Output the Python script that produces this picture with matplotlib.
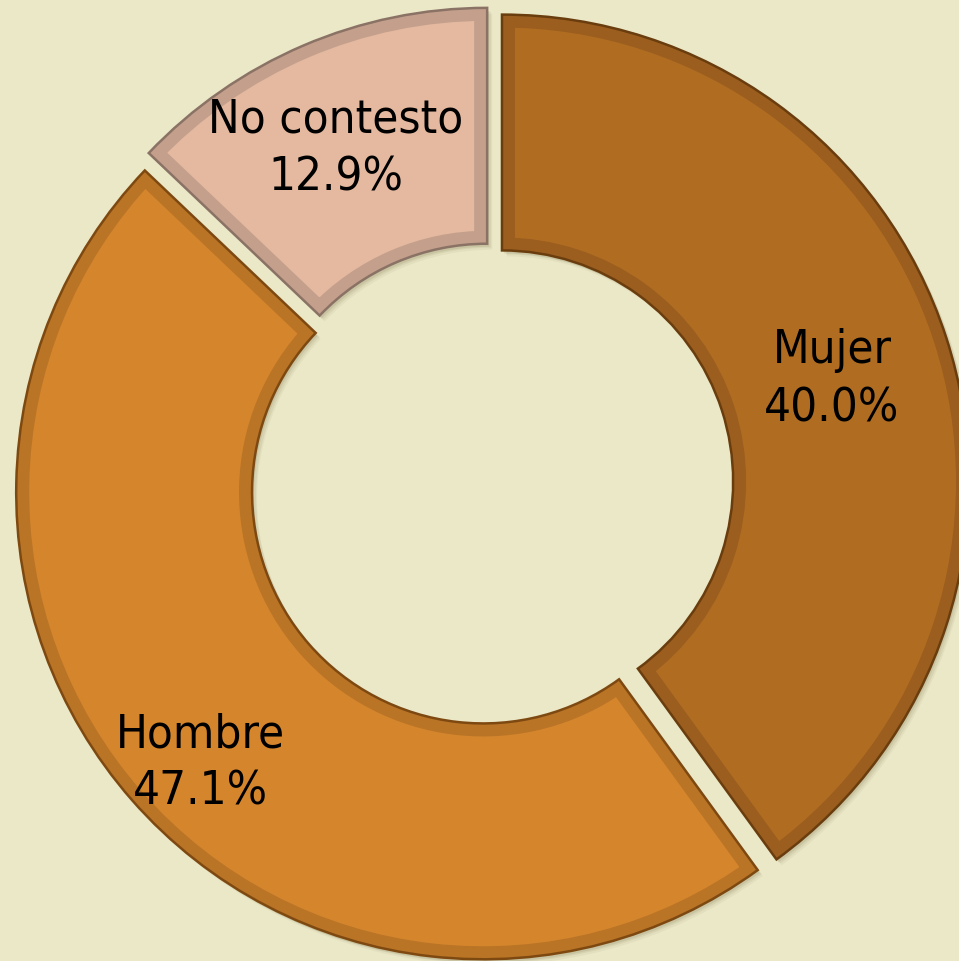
import matplotlib
matplotlib.use("Agg")
import matplotlib.pyplot as plt
from matplotlib.patches import Wedge
from matplotlib import transforms

# Survey result by gender
categories = ["Mujer", "Hombre", "No contesto"]
percentages = [40.0, 47.1, 12.9]

fill_colors = ["#B06D22", "#D5852C", "#E4B9A0"]
band_colors = ["#9B5E1E", "#B97426", "#C4A08C"]
edge_colors = ["#6A3D0E", "#7E4911", "#8A7265"]
background = "#EBE8C8"

W, H, DPI = 959, 961, 100
R_PX = 467.0           # outer radius in pixels
CX, CY = 491.5, 485.0  # donut centre in pixels (from top-left)

fig = plt.figure(figsize=(W / DPI, H / DPI), dpi=DPI, facecolor=background)
ax = fig.add_axes([0, 0, 1, 1])
ax.set_facecolor(background)

wedges, _ = ax.pie(
    percentages,
    startangle=90,
    counterclock=False,
    radius=1.0,
    explode=[0.0236, 0.0236, 0.0236],
    wedgeprops=dict(width=0.505, linewidth=0, edgecolor="none"),
    normalize=True,
)
ax.set_aspect("auto")
ax.set_xlim(-CX / R_PX, (W - CX) / R_PX)
ax.set_ylim(-(H - CY) / R_PX, CY / R_PX)
ax.axis("off")

band_px = 13.0
band_lw = 2 * band_px * 72.0 / DPI

for w, fc, bc, ec in zip(wedges, fill_colors, band_colors, edge_colors):
    geom = dict(center=w.center, r=w.r, theta1=w.theta1, theta2=w.theta2, width=w.width)

    # soft drop shadow
    for dx, dy, a in [(5, -6, 0.05), (4, -4, 0.07), (2, -3, 0.10)]:
        tr = transforms.offset_copy(ax.transData, fig=fig, x=dx, y=dy, units="dots")
        ax.add_patch(Wedge(**geom, facecolor="#4a3a10", edgecolor="none",
                           alpha=a, transform=tr, zorder=0.5))

    # main fill
    w.set_facecolor(fc)
    w.set_zorder(1)

    # inner bevel band: a wide stroke clipped to the wedge shape
    clip = Wedge(**geom, transform=ax.transData)
    band = Wedge(**geom, facecolor="none", edgecolor=bc, linewidth=band_lw,
                 joinstyle="miter", zorder=1.5)
    ax.add_patch(band)
    band.set_clip_path(clip)

    # thin dark outline
    ax.add_patch(Wedge(**geom, facecolor="none", edgecolor=ec, linewidth=1.8,
                       joinstyle="miter", zorder=2))

# data labels: (x, baseline of name, baseline of value)
label_pos = {
    "Mujer": (0.729, 0.261, 0.135),
    "Hombre": (-0.624, -0.563, -0.685),
    "No contesto": (-0.333, 0.754, 0.630),
}
text_style = dict(ha="center", va="baseline", fontsize=34, family="DejaVu Sans",
                  fontstretch="condensed", color="black", zorder=3)
for name, val in zip(categories, percentages):
    x, y_name, y_val = label_pos[name]
    ax.text(x, y_name, name, **text_style)
    ax.text(x, y_val, f"{val:.1f}%", **text_style)

fig.savefig("out.png", dpi=DPI, facecolor=background)
